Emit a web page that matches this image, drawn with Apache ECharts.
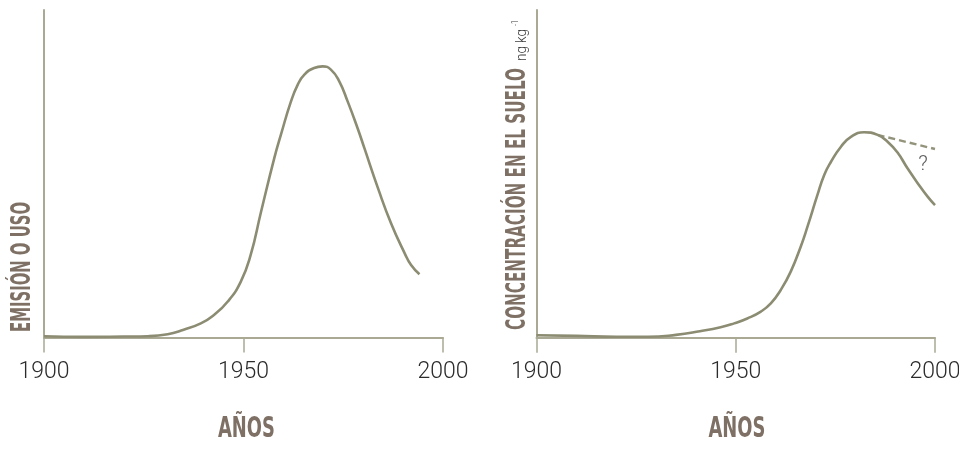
<!DOCTYPE html>
<html>
<head>
<meta charset="utf-8">
<script src="https://cdn.jsdelivr.net/npm/echarts@6/dist/echarts.min.js"></script>
<style>html,body{margin:0;padding:0;background:#fff}#c{width:959px;height:450px}</style>
</head>
<body>
<div id="c"></div>
<script>
// ---- data ----
const xTicks = [1900, 1950, 2000];
const emissionYears = [1900, 1910, 1920, 1926, 1931, 1935, 1939.3, 1942.6, 1946, 1949.3, 1951.8, 1954.4, 1957.7, 1959.4, 1961.9, 1963.6, 1965.2, 1967.7, 1969.8, 1971.9, 1974.0, 1976.1, 1978.6, 1980.3, 1983.7, 1987, 1990.4, 1992, 1994.1];
const emissionValues = [0.4, 0.2, 0.3, 0.4, 1.0, 2.4, 4.3, 6.9, 10.9, 17.0, 25.2, 38.4, 54.7, 62.0, 72.1, 77.2, 80.2, 82.3, 82.8, 81.8, 78.2, 72.1, 63.9, 57.8, 45.6, 34.8, 25.7, 22.1, 19.3];
const soilYears = [1900, 1910, 1920, 1928, 1935, 1941, 1946.2, 1949.6, 1952.9, 1956.3, 1958.8, 1961.3, 1963.8, 1966.3, 1968, 1970.5, 1972.2, 1973.9, 1976.4, 1978.9, 1982.2, 1985.6, 1988.1, 1990.6, 1993.1, 1995.7, 1998.2, 2000];
const soilValues = [0.8, 0.6, 0.3, 0.3, 0.9, 2.0, 3.2, 4.4, 5.9, 8.0, 10.5, 14.6, 20.2, 27.8, 33.9, 43.6, 49.7, 53.7, 58.3, 61.3, 62.7, 61.9, 59.8, 56.5, 51.7, 47.1, 43.0, 40.5];
const dashYears = [1985.6, 2000];
const dashValues = [61.9, 57.6];
const questionPoint = [1997, 52.7];
const xTitle = 'AÑOS';
const leftTitle = 'EMISIÓN O USO';
const rightTitle = 'CONCENTRACIÓN EN EL SUELO';
const unitText = 'ng kg';
const unitSup = '-1';

const pair = (xs, ys) => xs.map((x, i) => [x, ys[i]]);

const lineColor = '#8c8c73';
const axisColor = '#a9a994';
const titleColor = '#7e7064';
const tickColor = '#2b2b2b';
const cond = '"DejaVu Sans Condensed", "DejaVu Sans", sans-serif';
const light = 'Roboto, "DejaVu Sans Condensed", sans-serif';

// measure helper to squeeze condensed titles to the reference length
const mctx = document.createElement('canvas').getContext('2d');
function fit(text, font, len) { mctx.font = font; return len / mctx.measureText(text).width; }

function xAxisCfg(gi) {
  return {
    type: 'value', gridIndex: gi, min: xTicks[0], max: xTicks[xTicks.length - 1],
    interval: xTicks[1] - xTicks[0],
    axisLine: { show: true, lineStyle: { color: axisColor, width: 2 } },
    axisTick: { show: true, length: 15, lineStyle: { color: axisColor, width: 1.5 } },
    axisLabel: { color: tickColor, fontSize: 23, fontWeight: 300, fontFamily: light, margin: 23, formatter: v => String(v) },
    splitLine: { show: false }
  };
}
function yAxisCfg(gi) {
  return {
    type: 'value', gridIndex: gi, min: 0, max: 100,
    axisLine: { show: true, lineStyle: { color: axisColor, width: 2 } },
    axisTick: { show: false }, axisLabel: { show: false }, splitLine: { show: false }
  };
}

const titleFont = 'bold 27px ' + cond;
const unitFont = '300 14px ' + light;
function vText(str, x, y, font, len, color) {
  return { type: 'text', x: x, y: y, rotation: Math.PI / 2, scaleX: fit(str, font, len),
    style: { text: str, fill: color, font: font, textAlign: 'left', textVerticalAlign: 'middle', align: 'left', verticalAlign: 'middle' } };
}
function hText(str, x, y, font, len, color) {
  return { type: 'text', x: x, y: y, scaleX: fit(str, font, len),
    style: { text: str, fill: color, font: font, textAlign: 'center', textVerticalAlign: 'middle', align: 'center', verticalAlign: 'middle' } };
}

const chart = echarts.init(document.getElementById('c'));
chart.setOption({
  animation: false,
  grid: [
    { left: 44, top: 10, width: 399, height: 327.5, outerBoundsMode: 'none', containLabel: false },
    { left: 536.5, top: 10, width: 398.5, height: 327.8, outerBoundsMode: 'none', containLabel: false }
  ],
  xAxis: [xAxisCfg(0), xAxisCfg(1)],
  yAxis: [yAxisCfg(0), yAxisCfg(1)],
  series: [
    { type: 'line', xAxisIndex: 0, yAxisIndex: 0, data: pair(emissionYears, emissionValues), smooth: 0.5, symbol: 'none', lineStyle: { color: lineColor, width: 2.6 } },
    { type: 'line', xAxisIndex: 1, yAxisIndex: 1, data: pair(dashYears, dashValues), symbol: 'none', lineStyle: { color: '#94947c', width: 2.4, type: [7, 4] } },
    { type: 'line', xAxisIndex: 1, yAxisIndex: 1, data: pair(soilYears, soilValues), smooth: 0.5, symbol: 'none', lineStyle: { color: lineColor, width: 2.6 } },
    { type: 'scatter', xAxisIndex: 1, yAxisIndex: 1, data: [questionPoint], symbolSize: 0,
      label: { show: true, position: 'inside', formatter: '?', color: '#333', fontSize: 21, fontWeight: 300, fontFamily: light } }
  ],
  graphic: [
    vText(leftTitle, 23.3, 332, titleFont, 130, titleColor),
    vText(rightTitle, 517.5, 330, titleFont, 262, titleColor),
    vText(unitText, 522, 61, unitFont, 32, '#3a3a3a'),
    vText(unitSup, 515.5, 26, '300 9px ' + light, 6, '#3a3a3a'),
    hText(xTitle, 246.5, 430, 'bold 28px ' + cond, 57, titleColor),
    hText(xTitle, 737, 430, 'bold 28px ' + cond, 57, titleColor)
  ]
});
</script>
</body>
</html>
